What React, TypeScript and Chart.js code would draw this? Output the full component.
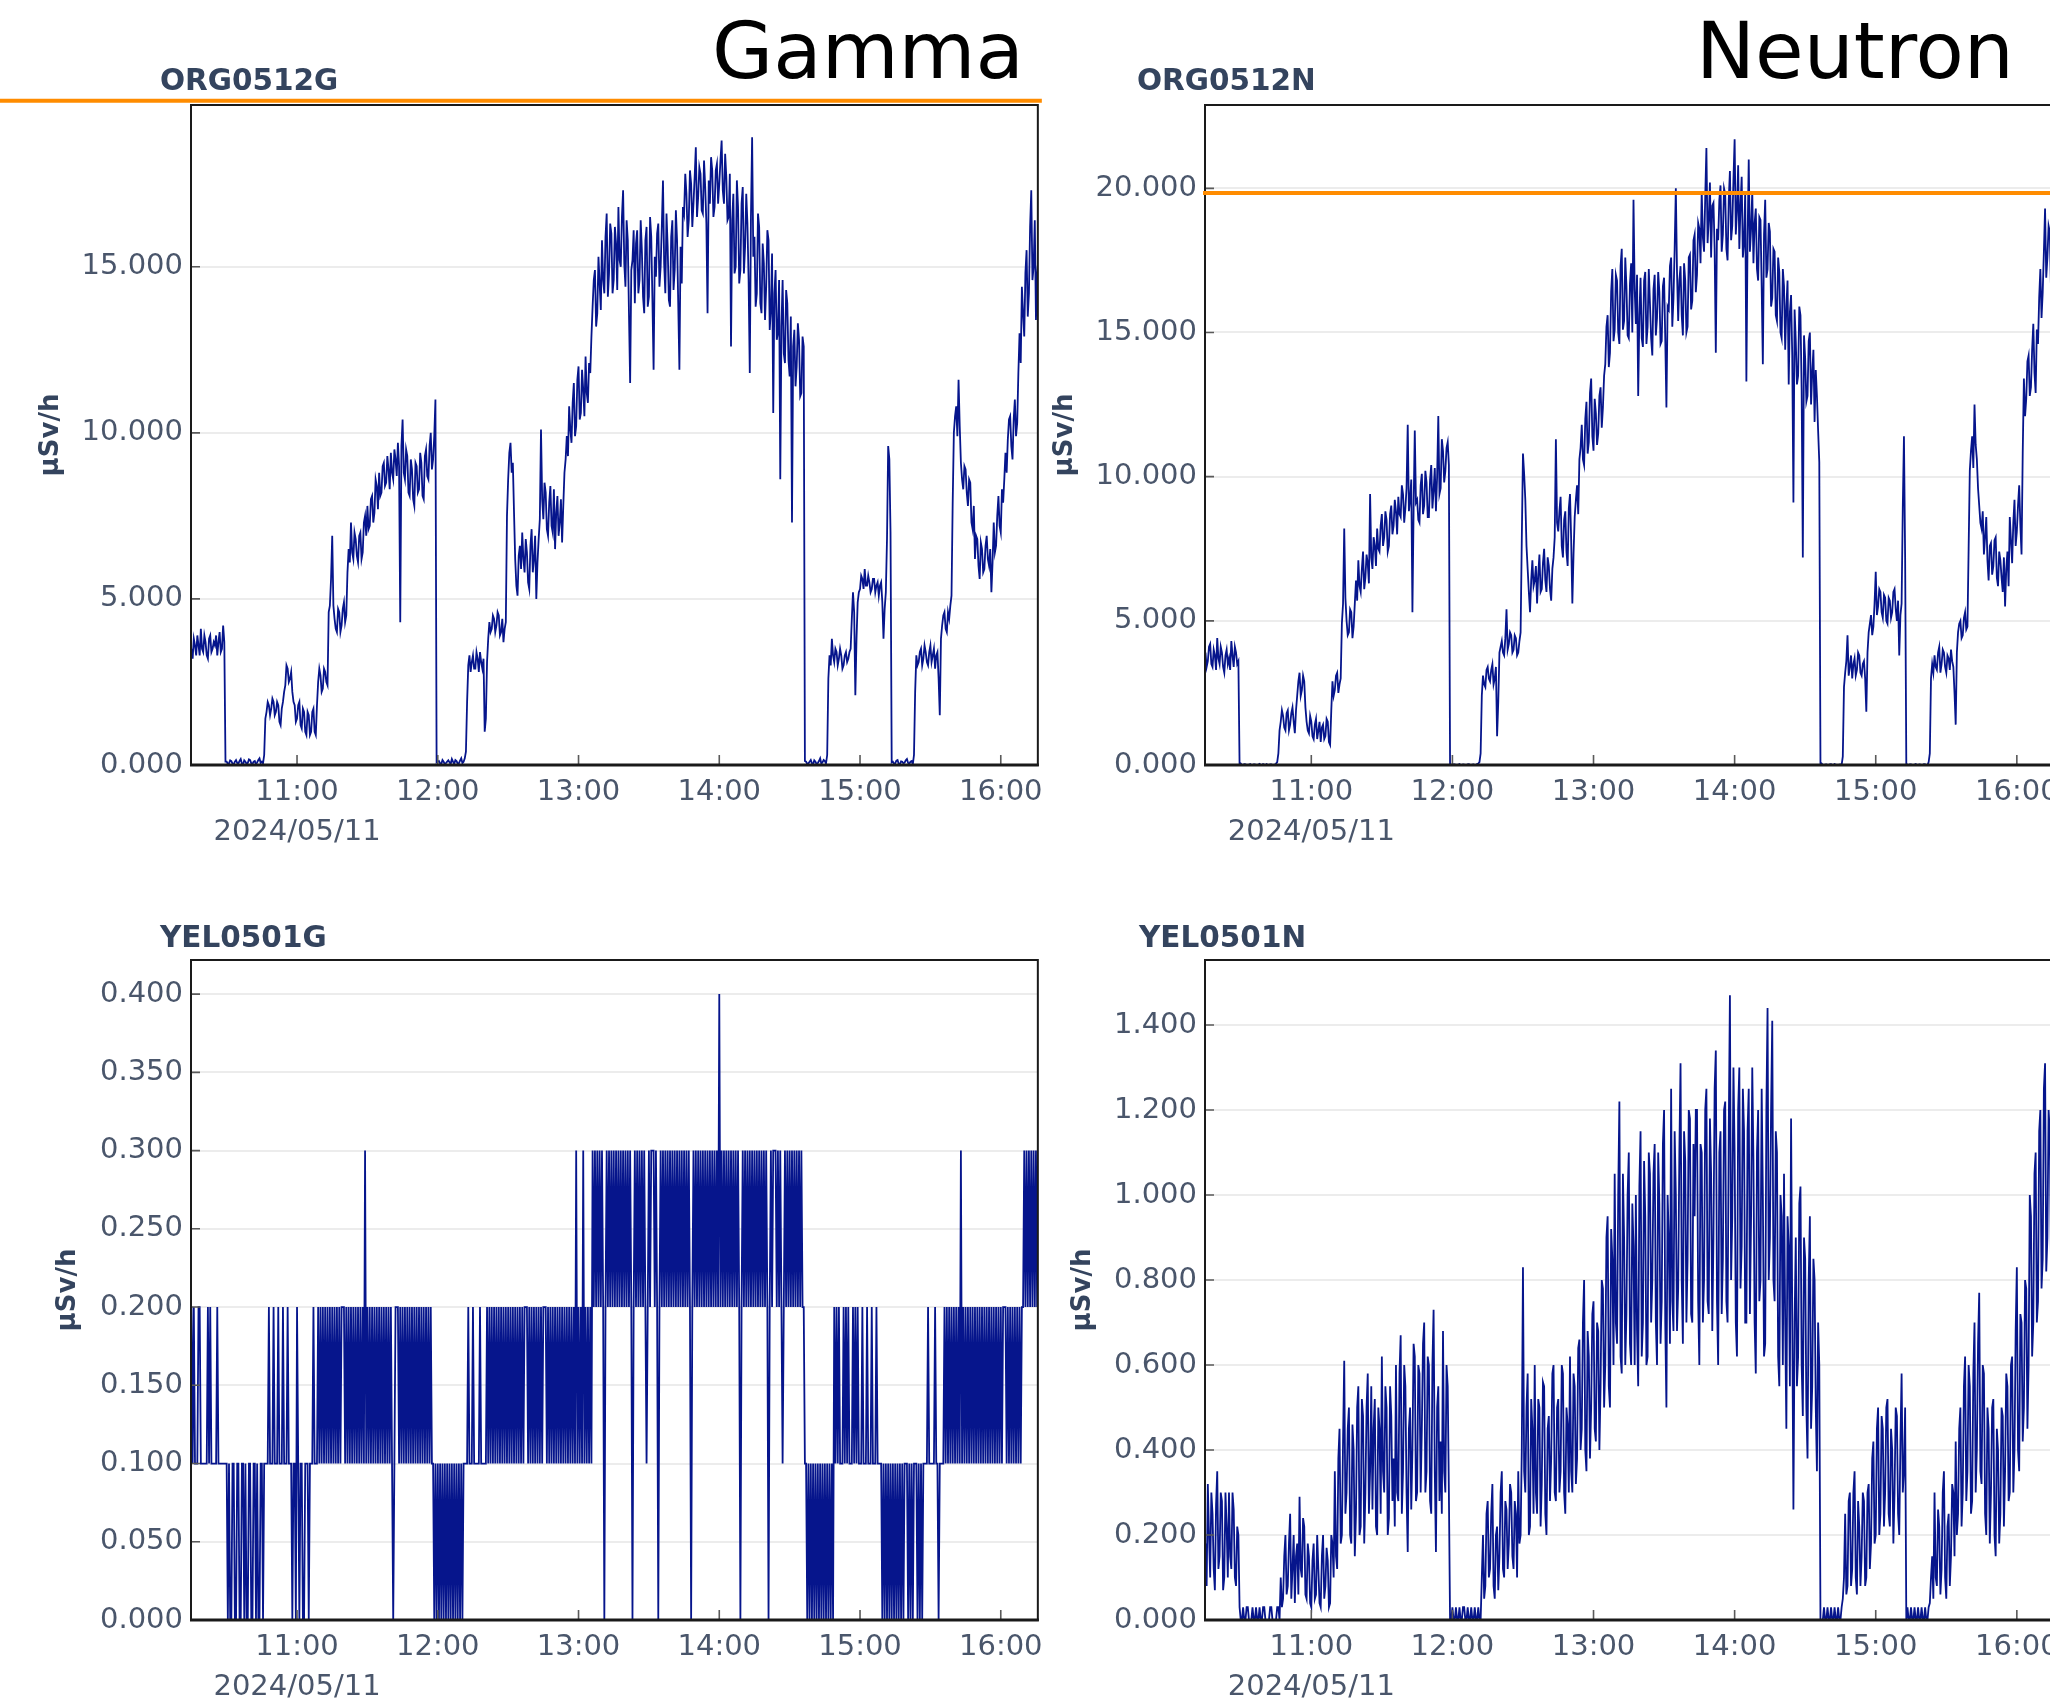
import React, { useEffect, useRef } from "react";
import { Chart, registerables } from "chart.js";

Chart.register(...registerables);

// Sampling grid: readings every 30 s, first reading at 10:15:00.
// Each series is stored as two lists: readings on the minute (mm:00)
// and readings at the half minute (mm:30).
const START_MINUTE = 10 * 60 + 15;
const X_MIN = 614.8;
const X_MAX = 975.8;
const HOUR_TICKS = [660, 720, 780, 840, 900, 960];
const DATE_LABEL = "2024/05/11";
const UNIT_LABEL = "µSv/h";

const ORG_G_TICKS = [0, 5, 10, 15];
const ORG_N_TICKS = [0, 5, 10, 15, 20];
const YEL_G_TICKS = [0, 0.05, 0.1, 0.15, 0.2, 0.25, 0.3, 0.35, 0.4];
const YEL_N_TICKS = [0, 0.2, 0.4, 0.6, 0.8, 1.0, 1.2, 1.4];

// Alarm levels drawn as horizontal lines on the ORG panels
const ORG_G_ALARM = 20.0;
const ORG_N_ALARM = 19.84;

// ORG0512G gamma dose rate, µSv/h — mm:00 readings
const org0512G = [
  // 10:15
  3.5, 3.8, 3.3, 3.6, 4.1, 3.4, 3.7, 3.2, 3.9, 3.5,
  // 10:25
  3.6, 3.3, 4.0, 3.5, 3.7, 0.1, 0.05, 0.12, 0.02, 0.15,
  // 10:35
  0.05, 0.18, 0.02, 0.1, 0.06, 0.15, 0.03, 0.12, 0.08, 0.2,
  // 10:45
  0.1, 0.3, 1.6, 1.8, 1.7, 1.9, 1.6, 1.8, 1.2, 1.9,
  // 10:55
  2.4, 2.9, 2.6, 2.2, 1.8, 1.4, 1.9, 1.1, 1.6, 0.9,
  // 11:05
  1.5, 1.0, 1.7, 0.9, 2.5, 2.7, 2.3, 2.8, 2.4, 4.8,
  // 11:15
  6.9, 4.4, 4.0, 4.6, 4.2, 4.9, 4.5, 6.5, 7.3, 6.2,
  // 11:25
  6.8, 6.1, 7.0, 6.4, 7.5, 7.8, 7.2, 8.1, 7.6, 8.4,
  // 11:35
  8.8, 8.2, 9.1, 8.5, 8.9, 9.4, 8.6, 9.2, 9.7, 4.3,
  // 11:45
  10.4, 8.6, 9.3, 8.1, 8.9, 7.8, 9.0, 8.3, 9.1, 8.0,
  // 11:55
  9.5, 8.6, 10.0, 9.2, 11.0, 0.1, 0.05, 0.15, 0.02, 0.1,
  // 12:05
  0.08, 0.18, 0.03, 0.12, 0.05, 0.2, 0.1, 0.4, 3.0, 2.8,
  // 12:15
  3.3, 2.9, 3.2, 3.4, 2.9, 1.0, 3.1, 4.3, 4.1, 4.4,
  // 12:25
  4.2, 4.5, 4.0, 3.7, 4.3, 8.6, 9.7, 9.1, 6.2, 5.1,
  // 12:35
  6.6, 7.0, 5.8, 6.4, 5.3, 7.1, 6.2, 5.0, 6.8, 10.1,
  // 12:45
  7.4, 8.2, 6.9, 8.4, 7.0, 6.5, 8.1, 7.3, 6.7, 8.8,
  // 12:55
  9.9, 10.8, 9.7, 11.5, 10.2, 12.0, 10.6, 11.3, 12.3, 10.9,
  // 13:05
  11.8, 13.8, 14.9, 13.6, 14.5, 15.8, 14.2, 16.6, 14.8, 16.0,
  // 13:15
  14.6, 15.7, 16.8, 15.0, 17.3, 14.4, 15.8, 11.5, 15.2, 13.9,
  // 13:25
  16.1, 14.6, 15.5, 13.6, 16.2, 14.1, 15.9, 11.9, 14.7, 16.3,
  // 13:35
  15.0, 17.6, 14.2, 15.6, 13.8, 16.4, 14.9, 15.8, 11.9, 14.5,
  // 13:45
  16.6, 17.2, 16.4, 17.5, 16.9, 18.6, 17.1, 17.8, 16.6, 17.4,
  // 13:55
  13.6, 16.9, 17.9, 16.8, 18.1, 17.5, 18.8, 16.9, 17.7, 16.5,
  // 14:05
  12.6, 17.2, 15.0, 16.8, 14.9, 17.4, 15.6, 16.3, 11.8, 18.9,
  // 14:15
  15.9, 14.2, 16.2, 13.6, 15.1, 14.4, 15.8, 13.7, 10.6, 14.9,
  // 14:25
  13.0, 8.6, 14.6, 12.1, 13.9, 11.7, 7.3, 13.1, 12.0, 12.8,
  // 14:35
  11.2, 12.6, 0.1, 0.05, 0.15, 0.02, 0.1, 0.06, 0.2, 0.08,
  // 14:45
  0.12, 0.3, 3.3, 3.8, 3.1, 3.4, 3.2, 3.3, 3.0, 3.4,
  // 14:55
  3.2, 3.5, 5.2, 2.1, 4.9, 5.3, 5.6, 5.9, 5.4, 5.5,
  // 15:05
  5.3, 5.6, 5.4, 5.1, 5.5, 3.8, 5.2, 9.6, 7.0, 0.1,
  // 15:15
  0.05, 0.15, 0.02, 0.1, 0.07, 0.18, 0.04, 0.12, 0.3, 3.3,
  // 15:25
  3.1, 3.5, 3.2, 3.4, 3.0, 3.6, 3.3, 2.9, 3.4, 1.5,
  // 15:35
  4.2, 4.6, 4.0, 4.4, 5.1, 10.0, 10.8, 11.6, 9.1, 8.3,
  // 15:45
  8.9, 7.8, 8.5, 7.1, 6.2, 6.8, 5.6, 6.5, 5.9, 6.9,
  // 15:55
  6.0, 5.2, 7.3, 6.6, 8.1, 7.0, 7.9, 9.4, 9.8, 10.5,
  // 16:05
  9.2, 11.0, 10.3, 13.0, 14.4, 12.9, 15.5, 14.2, 17.3, 15.0,
  // 16:15
  13.4, 15.2,
];

// ORG0512G — mm:30 readings
const org0512GHalf = [
  // 10:15
  3.2, 3.6, 3.9, 3.3, 3.5, 3.9, 3.3, 3.8, 3.4, 3.7,
  // 10:25
  3.9, 3.7, 3.4, 4.2, 0.1, 0.03, 0.14, 0.04, 0.1, 0.06,
  // 10:35
  0.12, 0.04, 0.14, 0.03, 0.17, 0.05, 0.1, 0.02, 0.15, 0.06,
  // 10:45
  0.05, 1.4, 1.9, 1.5, 2.0, 1.5, 1.9, 1.3, 1.7, 2.2,
  // 10:55
  3.0, 2.5, 2.8, 1.9, 1.3, 1.8, 1.2, 1.7, 1.0, 1.6,
  // 11:05
  0.9, 1.6, 1.0, 1.8, 2.9, 2.2, 2.9, 2.5, 4.6, 5.6,
  // 11:15
  4.8, 4.1, 4.7, 4.0, 4.7, 4.3, 5.8, 6.1, 6.4, 7.0,
  // 11:25
  6.3, 6.9, 6.2, 7.3, 6.9, 7.1, 8.0, 7.3, 8.6, 7.7,
  // 11:35
  8.1, 9.0, 8.4, 9.3, 8.3, 8.8, 9.5, 8.7, 9.0, 9.6,
  // 11:45
  8.8, 9.5, 8.2, 9.2, 8.0, 9.1, 8.2, 9.4, 8.1, 9.3,
  // 11:55
  8.7, 9.6, 8.9, 9.9, 0.08, 0.12, 0.03, 0.1, 0.06, 0.14,
  // 12:05
  0.03, 0.1, 0.15, 0.04, 0.13, 0.06, 0.2, 1.9, 3.3, 3.1,
  // 12:15
  2.9, 3.4, 2.8, 3.1, 3.2, 1.4, 3.8, 4.0, 4.5, 4.0,
  // 12:25
  4.6, 3.9, 4.4, 4.1, 7.5, 9.4, 8.8, 7.6, 5.4, 6.3,
  // 12:35
  5.9, 6.2, 6.8, 5.5, 6.6, 5.8, 6.9, 6.1, 7.4, 8.0,
  // 12:45
  8.5, 7.1, 7.9, 7.2, 8.3, 7.6, 6.9, 8.0, 7.8, 9.2,
  // 12:55
  9.3, 10.1, 10.9, 9.9, 11.6, 10.4, 11.9, 10.5, 11.2, 12.1,
  // 13:05
  12.9, 14.6, 13.2, 15.3, 13.7, 14.6, 15.9, 14.1, 16.3, 14.2,
  // 13:15
  16.2, 14.3, 15.2, 16.5, 15.1, 16.4, 13.6, 14.9, 16.1, 15.7,
  // 13:25
  14.2, 16.4, 14.1, 15.8, 13.8, 16.5, 14.0, 15.3, 16.0, 14.4,
  // 13:35
  16.2, 15.1, 16.6, 14.0, 15.9, 14.3, 16.7, 13.9, 15.6, 16.8,
  // 13:45
  17.8, 15.9, 17.9, 16.2, 17.7, 16.5, 18.0, 16.7, 18.2, 16.3,
  // 13:55
  17.6, 18.3, 16.5, 17.9, 16.9, 18.2, 17.3, 18.4, 16.4, 17.8,
  // 14:05
  16.4, 14.8, 17.6, 14.5, 16.9, 14.8, 17.2, 14.6, 16.5, 15.3,
  // 14:15
  13.8, 16.6, 13.9, 15.7, 13.4, 16.1, 13.1, 15.4, 14.2, 12.8,
  // 14:25
  14.6, 13.2, 12.4, 14.3, 12.2, 13.5, 12.6, 11.4, 13.3, 11.1,
  // 14:35
  12.9, 0.12, 0.03, 0.1, 0.05, 0.14, 0.02, 0.12, 0.04, 0.15,
  // 14:45
  0.05, 2.6, 3.0, 3.3, 3.5, 3.0, 3.5, 2.9, 3.3, 3.1,
  // 14:55
  3.4, 4.4, 4.6, 3.8, 5.2, 5.7, 5.3, 5.4, 5.7, 5.2,
  // 15:05
  5.6, 5.2, 5.5, 5.4, 4.9, 4.7, 6.8, 9.2, 0.08, 0.04,
  // 15:15
  0.13, 0.03, 0.11, 0.05, 0.14, 0.06, 0.1, 0.02, 2.2, 3.0,
  // 15:25
  3.4, 3.0, 3.6, 3.1, 3.4, 3.1, 3.5, 3.3, 2.6, 3.8,
  // 15:35
  4.5, 4.1, 4.6, 4.8, 7.9, 10.5, 9.9, 10.2, 8.6, 9.0,
  // 15:45
  8.2, 8.6, 7.3, 7.8, 6.9, 6.0, 6.7, 5.8, 6.6, 6.2,
  // 15:55
  6.5, 6.1, 6.4, 7.5, 7.2, 8.3, 8.6, 8.8, 10.4, 9.6,
  // 16:05
  10.4, 9.9, 11.8, 12.1, 13.6, 14.8, 13.5, 16.2, 14.6, 16.4,
  // 16:15
  14.8, 14.0,
];

// ORG0512N neutron dose rate, µSv/h — mm:00 readings
const org0512N = [
  // 10:15
  3.9, 3.6, 4.2, 3.4, 3.8, 4.4, 3.5, 3.9, 3.2, 4.0,
  // 10:25
  3.7, 4.3, 3.4, 3.9, 3.6, 0.05, 0.0, 0.02, 0.0, 0.03,
  // 10:35
  0.0, 0.02, 0.0, 0.04, 0.0, 0.01, 0.03, 0.0, 0.02, 0.0,
  // 10:45
  0.05, 0.4, 1.5, 1.7, 1.2, 1.9, 1.4, 2.0, 1.1, 2.4,
  // 10:55
  3.2, 2.6, 2.9, 1.5, 1.1, 1.5, 0.9, 1.6, 1.2, 0.8,
  // 11:05
  1.4, 1.0, 1.5, 0.7, 2.9, 2.6, 3.2, 2.8, 4.9, 8.2,
  // 11:15
  5.0, 4.6, 5.3, 4.8, 6.4, 7.1, 6.0, 7.4, 6.5, 7.0,
  // 11:25
  9.4, 6.8, 7.6, 8.2, 7.4, 8.7, 7.9, 8.5, 7.6, 9.0,
  // 11:35
  8.3, 8.8, 9.3, 8.6, 9.4, 8.9, 11.8, 9.2, 5.3, 11.6,
  // 11:45
  9.2, 8.4, 10.1, 9.0, 9.8, 8.6, 10.4, 9.5, 8.8, 12.1,
  // 11:55
  9.6, 10.9, 10.2, 11.2, 0.05, 0.0, 0.02, 0.0, 0.03, 0.0,
  // 12:05
  0.01, 0.0, 0.03, 0.0, 0.02, 0.0, 0.05, 0.4, 3.1, 2.7,
  // 12:15
  3.4, 2.9, 3.5, 3.0, 1.0, 3.9, 4.3, 3.8, 5.4, 4.2,
  // 12:25
  4.5, 4.0, 4.4, 3.9, 4.6, 10.8, 9.2, 6.8, 5.3, 7.1,
  // 12:35
  6.4, 5.6, 7.3, 6.1, 7.5, 6.0, 6.9, 5.7, 7.2, 11.3,
  // 12:45
  8.1, 9.3, 7.2, 8.8, 6.9, 9.4, 5.6, 8.6, 9.7, 10.6,
  // 12:55
  11.8, 10.4, 12.6, 11.2, 13.4, 10.9, 12.2, 11.5, 13.1, 12.4,
  // 13:05
  13.9, 15.6, 14.3, 17.2, 15.1, 16.8, 14.6, 17.9, 15.4, 16.6,
  // 13:15
  14.8, 17.4, 19.6, 15.3, 12.8, 16.9, 14.5, 17.1, 15.2, 16.0,
  // 13:25
  14.2, 17.0, 15.5, 16.4, 14.7, 16.9, 12.4, 15.8, 17.6, 16.2,
  // 13:35
  20.0, 15.4, 17.3, 14.9, 16.8, 15.2, 17.7, 16.1, 18.4, 17.0,
  // 13:45
  18.6, 19.9, 17.8, 21.4, 18.9, 17.6, 19.5, 14.3, 18.2, 20.1,
  // 13:55
  18.4, 19.8, 17.5, 20.6, 18.7, 21.7, 19.2, 17.9, 20.4, 18.1,
  // 14:05
  13.3, 21.0, 18.6, 17.4, 19.3, 16.8, 18.9, 13.9, 19.6, 17.2,
  // 14:15
  18.5, 16.2, 17.8, 15.4, 17.1, 14.8, 16.6, 15.9, 13.2, 16.3,
  // 14:25
  9.1, 14.7, 13.5, 15.6, 7.2, 14.1, 12.8, 15.0, 13.6, 11.9,
  // 14:35
  12.8, 10.5, 0.05, 0.0, 0.02, 0.0, 0.03, 0.0, 0.01, 0.0,
  // 14:45
  0.02, 0.3, 3.2, 4.5, 3.4, 3.0, 3.7, 3.3, 3.8, 3.1,
  // 14:55
  3.6, 1.85, 4.6, 5.2, 4.8, 6.7, 5.5, 6.0, 5.1, 5.8,
  // 15:05
  4.9, 5.7, 5.3, 6.1, 5.0, 3.8, 5.6, 11.4, 0.05, 0.0,
  // 15:15
  0.02, 0.0, 0.03, 0.0, 0.01, 0.0, 0.02, 0.0, 0.4, 3.5,
  // 15:25
  3.8, 3.3, 4.1, 3.5, 3.9, 3.2, 3.7, 4.0, 3.4, 1.4,
  // 15:35
  4.6, 5.0, 4.5, 5.3, 4.8, 10.2, 11.4, 12.5, 10.6, 9.0,
  // 15:45
  8.2, 7.3, 8.6, 6.4, 7.7, 6.9, 7.9, 6.2, 7.1, 6.0,
  // 15:55
  5.5, 7.4, 8.6, 7.0, 9.2, 8.1, 9.7, 7.3, 13.4, 12.7,
  // 16:05
  14.2, 13.1, 15.3, 12.9, 14.6, 17.2, 16.4, 19.3, 17.6, 18.5,
  // 16:15
  16.9, 19.2,
];

// ORG0512N — mm:30 readings
const org0512NHalf = [
  // 10:15
  3.4, 4.1, 3.5, 4.0, 3.3, 3.7, 4.1, 3.4, 3.8, 3.5,
  // 10:25
  3.3, 3.8, 4.1, 3.5, 0.02, 0.0, 0.03, 0.0, 0.01, 0.0,
  // 10:35
  0.02, 0.0, 0.01, 0.0, 0.03, 0.0, 0.0, 0.02, 0.0, 0.01,
  // 10:45
  0.1, 1.2, 1.9, 1.3, 1.8, 1.2, 1.8, 1.5, 1.9, 2.9,
  // 10:55
  2.4, 3.1, 2.0, 1.2, 1.7, 1.0, 1.4, 0.9, 1.5, 1.3,
  // 11:05
  0.9, 1.6, 0.8, 1.9, 2.4, 3.1, 2.5, 3.0, 5.6, 5.8,
  // 11:15
  4.5, 5.4, 4.4, 5.6, 5.7, 6.2, 6.8, 6.1, 7.3, 6.3,
  // 11:25
  7.2, 7.9, 6.9, 7.5, 8.3, 7.6, 8.8, 7.4, 8.7, 8.0,
  // 11:35
  9.2, 8.0, 8.7, 9.7, 8.4, 9.6, 8.8, 9.9, 8.9, 9.1,
  // 11:45
  8.5, 9.7, 8.7, 10.2, 8.6, 9.9, 8.9, 10.3, 10.0, 9.4,
  // 11:55
  11.3, 9.8, 11.0, 10.4, 0.0, 0.02, 0.0, 0.01, 0.0, 0.02,
  // 12:05
  0.0, 0.02, 0.0, 0.01, 0.0, 0.03, 0.1, 2.4, 2.8, 3.3,
  // 12:15
  3.0, 3.3, 2.8, 3.4, 2.2, 4.1, 3.9, 4.4, 4.0, 4.6,
  // 12:25
  3.9, 4.5, 3.8, 4.3, 7.8, 10.1, 7.6, 6.0, 6.4, 6.2,
  // 12:35
  6.9, 6.6, 6.0, 7.0, 6.4, 7.2, 6.1, 6.8, 7.9, 8.4,
  // 12:45
  8.8, 7.6, 8.5, 7.4, 8.9, 7.8, 7.3, 9.2, 8.7, 11.0,
  // 12:55
  10.6, 12.0, 10.8, 12.9, 11.4, 12.7, 11.1, 12.8, 11.7, 13.5,
  // 13:05
  15.2, 13.8, 16.4, 14.7, 17.0, 15.0, 17.3, 15.1, 17.6, 14.9,
  // 13:15
  16.7, 15.0, 16.5, 17.0, 15.6, 14.8, 16.8, 14.6, 17.2, 14.8,
  // 13:25
  16.5, 14.9, 17.1, 14.6, 16.6, 14.8, 15.9, 17.3, 15.2, 17.9,
  // 13:35
  17.1, 16.8, 15.6, 17.4, 15.0, 17.6, 15.8, 18.2, 16.4, 18.8,
  // 13:45
  17.4, 18.3, 19.7, 18.1, 20.2, 19.4, 17.9, 18.6, 19.6, 17.8,
  // 13:55
  20.0, 17.9, 19.6, 18.2, 20.3, 18.4, 20.8, 19.4, 17.6, 19.9,
  // 14:05
  18.2, 17.8, 19.9, 18.8, 17.2, 19.0, 16.6, 18.4, 16.9, 18.8,
  // 14:15
  15.9, 17.9, 15.6, 17.6, 15.0, 17.2, 14.4, 16.8, 15.7, 14.2,
  // 14:25
  15.8, 13.2, 15.9, 13.0, 14.9, 12.6, 14.7, 12.5, 14.4, 13.7,
  // 14:35
  11.6, 0.02, 0.0, 0.01, 0.0, 0.02, 0.0, 0.03, 0.0, 0.01,
  // 14:45
  0.0, 2.7, 3.6, 3.1, 3.8, 3.5, 3.1, 3.9, 3.2, 3.5,
  // 14:55
  3.0, 3.9, 4.9, 4.5, 5.6, 5.2, 6.1, 5.3, 5.9, 5.0,
  // 15:05
  5.8, 5.1, 6.0, 5.4, 5.7, 5.2, 8.9, 7.2, 0.0, 0.02,
  // 15:15
  0.0, 0.01, 0.0, 0.02, 0.0, 0.03, 0.0, 0.1, 3.0, 3.2,
  // 15:25
  3.4, 3.9, 3.2, 4.0, 3.4, 3.8, 3.3, 3.6, 2.5, 3.9,
  // 15:35
  4.9, 4.4, 5.1, 4.7, 7.5, 10.9, 10.3, 11.1, 9.6, 8.4,
  // 15:45
  8.8, 7.9, 7.1, 7.6, 6.6, 7.8, 6.5, 7.4, 6.5, 7.2,
  // 15:55
  6.8, 6.2, 7.8, 8.4, 7.6, 9.0, 8.3, 10.8, 12.1, 14.0,
  // 16:05
  12.8, 14.4, 13.6, 15.1, 16.2, 15.5, 17.8, 16.9, 18.7, 16.6,
  // 16:15
  18.4, 17.5,
];

// YEL0501G gamma dose rate, µSv/h (0.1 resolution) — mm:00 readings
const yel0501G = [
  // 10:15
  0.2, 0.2, 0.1, 0.2, 0.1, 0.1, 0.1, 0.2, 0.2, 0.1,
  // 10:25
  0.1, 0.2, 0.1, 0.1, 0.1, 0.1, 0.1, 0.0, 0.1, 0.0,
  // 10:35
  0.1, 0.0, 0.1, 0.1, 0.0, 0.1, 0.0, 0.1, 0.1, 0.0,
  // 10:45
  0.1, 0.1, 0.1, 0.2, 0.1, 0.2, 0.1, 0.2, 0.1, 0.2,
  // 10:55
  0.1, 0.2, 0.1, 0.0, 0.1, 0.2, 0.0, 0.1, 0.0, 0.1,
  // 11:05
  0.0, 0.1, 0.2, 0.1, 0.2, 0.2, 0.2, 0.2, 0.2, 0.2,
  // 11:15
  0.2, 0.2, 0.2, 0.2, 0.2, 0.2, 0.2, 0.2, 0.2, 0.2,
  // 11:25
  0.2, 0.2, 0.2, 0.2, 0.3, 0.2, 0.2, 0.2, 0.2, 0.2,
  // 11:35
  0.2, 0.2, 0.2, 0.2, 0.2, 0.2, 0.0, 0.2, 0.2, 0.2,
  // 11:45
  0.2, 0.2, 0.2, 0.2, 0.2, 0.2, 0.2, 0.2, 0.2, 0.2,
  // 11:55
  0.2, 0.2, 0.2, 0.1, 0.1, 0.1, 0.1, 0.1, 0.1, 0.1,
  // 12:05
  0.1, 0.1, 0.1, 0.1, 0.1, 0.1, 0.1, 0.1, 0.2, 0.1,
  // 12:15
  0.2, 0.1, 0.1, 0.2, 0.1, 0.1, 0.2, 0.2, 0.2, 0.2,
  // 12:25
  0.2, 0.2, 0.2, 0.2, 0.2, 0.2, 0.2, 0.2, 0.2, 0.2,
  // 12:35
  0.2, 0.2, 0.2, 0.2, 0.2, 0.2, 0.2, 0.2, 0.2, 0.2,
  // 12:45
  0.2, 0.2, 0.2, 0.2, 0.2, 0.2, 0.2, 0.2, 0.2, 0.2,
  // 12:55
  0.2, 0.2, 0.2, 0.2, 0.3, 0.2, 0.2, 0.3, 0.2, 0.2,
  // 13:05
  0.2, 0.3, 0.3, 0.3, 0.3, 0.3, 0.0, 0.3, 0.3, 0.3,
  // 13:15
  0.3, 0.3, 0.3, 0.3, 0.3, 0.3, 0.3, 0.3, 0.0, 0.3,
  // 13:25
  0.3, 0.3, 0.3, 0.3, 0.1, 0.3, 0.3, 0.3, 0.3, 0.0,
  // 13:35
  0.3, 0.3, 0.3, 0.3, 0.3, 0.3, 0.3, 0.3, 0.3, 0.3,
  // 13:45
  0.3, 0.3, 0.3, 0.0, 0.3, 0.3, 0.3, 0.3, 0.3, 0.3,
  // 13:55
  0.3, 0.3, 0.3, 0.3, 0.3, 0.4, 0.3, 0.3, 0.3, 0.3,
  // 14:05
  0.3, 0.3, 0.3, 0.3, 0.0, 0.3, 0.3, 0.3, 0.3, 0.3,
  // 14:15
  0.3, 0.3, 0.3, 0.3, 0.3, 0.3, 0.0, 0.3, 0.3, 0.3,
  // 14:25
  0.3, 0.3, 0.1, 0.3, 0.3, 0.3, 0.3, 0.3, 0.3, 0.3,
  // 14:35
  0.3, 0.2, 0.1, 0.1, 0.1, 0.1, 0.1, 0.1, 0.1, 0.1,
  // 14:45
  0.1, 0.1, 0.1, 0.1, 0.2, 0.2, 0.2, 0.1, 0.2, 0.2,
  // 14:55
  0.2, 0.1, 0.2, 0.2, 0.2, 0.1, 0.2, 0.1, 0.2, 0.1,
  // 15:05
  0.2, 0.1, 0.2, 0.1, 0.1, 0.1, 0.1, 0.1, 0.1, 0.1,
  // 15:15
  0.1, 0.1, 0.1, 0.1, 0.1, 0.1, 0.1, 0.1, 0.1, 0.1,
  // 15:25
  0.1, 0.1, 0.1, 0.1, 0.2, 0.1, 0.1, 0.2, 0.1, 0.1,
  // 15:35
  0.1, 0.2, 0.2, 0.2, 0.2, 0.2, 0.2, 0.2, 0.3, 0.2,
  // 15:45
  0.2, 0.2, 0.2, 0.2, 0.2, 0.2, 0.2, 0.2, 0.2, 0.2,
  // 15:55
  0.2, 0.2, 0.2, 0.2, 0.2, 0.2, 0.2, 0.2, 0.2, 0.2,
  // 16:05
  0.2, 0.2, 0.2, 0.2, 0.2, 0.3, 0.3, 0.3, 0.3, 0.3,
  // 16:15
  0.3, 0.3,
];

// YEL0501G — mm:30 readings
const yel0501GHalf = [
  // 10:15
  0.1, 0.1, 0.1, 0.2, 0.1, 0.1, 0.1, 0.1, 0.1, 0.1,
  // 10:25
  0.1, 0.1, 0.1, 0.1, 0.1, 0.0, 0.0, 0.1, 0.0, 0.1,
  // 10:35
  0.0, 0.1, 0.0, 0.0, 0.1, 0.0, 0.1, 0.0, 0.0, 0.1,
  // 10:45
  0.0, 0.1, 0.1, 0.1, 0.1, 0.1, 0.1, 0.1, 0.1, 0.1,
  // 10:55
  0.1, 0.1, 0.1, 0.1, 0.0, 0.1, 0.1, 0.0, 0.1, 0.1,
  // 11:05
  0.1, 0.1, 0.1, 0.1, 0.1, 0.1, 0.1, 0.1, 0.1, 0.1,
  // 11:15
  0.1, 0.1, 0.1, 0.1, 0.2, 0.1, 0.1, 0.1, 0.1, 0.1,
  // 11:25
  0.1, 0.1, 0.1, 0.1, 0.1, 0.1, 0.1, 0.1, 0.1, 0.1,
  // 11:35
  0.1, 0.1, 0.1, 0.1, 0.1, 0.1, 0.1, 0.2, 0.1, 0.1,
  // 11:45
  0.1, 0.1, 0.1, 0.1, 0.1, 0.1, 0.1, 0.1, 0.1, 0.1,
  // 11:55
  0.1, 0.1, 0.1, 0.0, 0.0, 0.0, 0.0, 0.0, 0.0, 0.0,
  // 12:05
  0.0, 0.0, 0.0, 0.0, 0.0, 0.0, 0.1, 0.1, 0.1, 0.1,
  // 12:15
  0.1, 0.1, 0.1, 0.1, 0.1, 0.1, 0.1, 0.1, 0.1, 0.1,
  // 12:25
  0.1, 0.1, 0.1, 0.1, 0.1, 0.1, 0.1, 0.1, 0.1, 0.1,
  // 12:35
  0.1, 0.1, 0.2, 0.1, 0.1, 0.1, 0.1, 0.1, 0.1, 0.1,
  // 12:45
  0.2, 0.1, 0.1, 0.1, 0.1, 0.1, 0.1, 0.1, 0.1, 0.1,
  // 12:55
  0.1, 0.1, 0.1, 0.1, 0.1, 0.1, 0.1, 0.1, 0.1, 0.1,
  // 13:05
  0.1, 0.2, 0.2, 0.2, 0.2, 0.2, 0.2, 0.2, 0.2, 0.2,
  // 13:15
  0.2, 0.2, 0.2, 0.2, 0.2, 0.2, 0.2, 0.2, 0.2, 0.2,
  // 13:25
  0.2, 0.2, 0.2, 0.2, 0.2, 0.2, 0.3, 0.2, 0.2, 0.2,
  // 13:35
  0.2, 0.2, 0.2, 0.2, 0.2, 0.2, 0.2, 0.2, 0.2, 0.2,
  // 13:45
  0.2, 0.2, 0.2, 0.2, 0.2, 0.2, 0.2, 0.2, 0.2, 0.2,
  // 13:55
  0.2, 0.2, 0.2, 0.2, 0.2, 0.2, 0.2, 0.2, 0.2, 0.2,
  // 14:05
  0.2, 0.2, 0.2, 0.2, 0.2, 0.2, 0.2, 0.2, 0.2, 0.2,
  // 14:15
  0.2, 0.2, 0.2, 0.2, 0.2, 0.2, 0.2, 0.2, 0.3, 0.2,
  // 14:25
  0.2, 0.2, 0.2, 0.2, 0.2, 0.2, 0.2, 0.2, 0.2, 0.2,
  // 14:35
  0.2, 0.1, 0.0, 0.0, 0.0, 0.0, 0.0, 0.0, 0.0, 0.0,
  // 14:45
  0.0, 0.0, 0.0, 0.0, 0.1, 0.1, 0.1, 0.1, 0.1, 0.1,
  // 14:55
  0.1, 0.1, 0.1, 0.1, 0.1, 0.1, 0.1, 0.1, 0.1, 0.1,
  // 15:05
  0.1, 0.1, 0.1, 0.1, 0.0, 0.0, 0.0, 0.0, 0.0, 0.0,
  // 15:15
  0.0, 0.0, 0.0, 0.0, 0.1, 0.0, 0.0, 0.0, 0.1, 0.0,
  // 15:25
  0.0, 0.0, 0.1, 0.1, 0.1, 0.1, 0.1, 0.1, 0.0, 0.1,
  // 15:35
  0.1, 0.1, 0.1, 0.1, 0.1, 0.1, 0.1, 0.1, 0.1, 0.1,
  // 15:45
  0.1, 0.1, 0.1, 0.1, 0.1, 0.1, 0.1, 0.1, 0.1, 0.1,
  // 15:55
  0.1, 0.1, 0.1, 0.1, 0.1, 0.1, 0.2, 0.1, 0.1, 0.1,
  // 16:05
  0.1, 0.1, 0.1, 0.1, 0.2, 0.2, 0.2, 0.2, 0.2, 0.2,
  // 16:15
  0.2, 0.2,
];

// YEL0501N neutron dose rate, µSv/h — mm:00 readings
const yel0501N = [
  // 10:15
  0.18, 0.32, 0.1, 0.25, 0.07, 0.35, 0.15, 0.28, 0.1, 0.22,
  // 10:25
  0.3, 0.12, 0.26, 0.08, 0.2, 0.0, 0.03, 0.0, 0.03, 0.0,
  // 10:35
  0.03, 0.0, 0.0, 0.03, 0.0, 0.03, 0.0, 0.0, 0.03, 0.0,
  // 10:45
  0.0, 0.03, 0.1, 0.05, 0.2, 0.08, 0.25, 0.12, 0.04, 0.18,
  // 10:55
  0.29, 0.1, 0.22, 0.05, 0.15, 0.03, 0.18, 0.06, 0.12, 0.03,
  // 11:05
  0.2, 0.08, 0.14, 0.04, 0.18, 0.35, 0.12, 0.45, 0.2, 0.61,
  // 11:15
  0.3, 0.5, 0.18, 0.4, 0.25, 0.55, 0.22, 0.48, 0.3, 0.58,
  // 11:25
  0.35, 0.26, 0.52, 0.2, 0.45, 0.62, 0.3, 0.5, 0.24, 0.48,
  // 11:35
  0.38, 0.6, 0.28, 0.67, 0.35, 0.55, 0.16, 0.5, 0.4, 0.62,
  // 11:45
  0.3, 0.58, 0.45, 0.7, 0.35, 0.6, 0.25, 0.73, 0.16, 0.55,
  // 11:55
  0.42, 0.68, 0.3, 0.55, 0.0, 0.03, 0.0, 0.0, 0.03, 0.0,
  // 12:05
  0.03, 0.0, 0.0, 0.03, 0.0, 0.0, 0.03, 0.0, 0.2, 0.08,
  // 12:15
  0.28, 0.12, 0.32, 0.05, 0.22, 0.15, 0.35, 0.1, 0.26, 0.18,
  // 12:25
  0.3, 0.12, 0.25, 0.35, 0.2, 0.83, 0.3, 0.58, 0.22, 0.45,
  // 12:35
  0.6, 0.25, 0.5, 0.32, 0.55, 0.2, 0.48, 0.38, 0.6, 0.28,
  // 12:45
  0.52, 0.35, 0.58, 0.25, 0.46, 0.62, 0.3, 0.55, 0.38, 0.66,
  // 12:55
  0.45, 0.8, 0.35, 0.62, 0.5, 0.75, 0.42, 0.68, 0.55, 0.78,
  // 13:05
  0.6, 0.95, 0.5, 0.85, 1.05, 0.65, 1.22, 0.58, 0.9, 0.72,
  // 13:15
  1.1, 0.6, 0.88, 1.0, 0.55, 1.15, 0.7, 0.95, 0.62, 1.05,
  // 13:25
  0.8, 1.12, 0.6, 0.98, 0.75, 1.2, 0.5, 0.9, 1.25, 0.68,
  // 13:35
  1.0, 0.78, 1.31, 0.65, 1.08, 0.85, 1.18, 0.7, 0.95, 1.2,
  // 13:45
  0.6, 1.1, 0.8, 1.25, 0.72, 1.05, 0.9, 1.34, 0.6, 1.15,
  // 13:55
  0.85, 1.22, 0.7, 1.47, 0.95, 1.1, 0.62, 1.3, 0.88, 1.15,
  // 14:05
  0.7, 1.25, 0.95, 1.08, 0.58, 1.2, 0.8, 1.0, 0.65, 1.44,
  // 14:15
  0.9, 1.41, 0.75, 1.1, 0.55, 0.95, 1.05, 0.45, 0.88, 1.18,
  // 14:25
  0.26, 0.9, 0.62, 1.02, 0.48, 0.85, 0.38, 0.95, 0.55, 0.8,
  // 14:35
  0.35, 0.6, 0.0, 0.03, 0.0, 0.0, 0.03, 0.0, 0.0, 0.03,
  // 14:45
  0.0, 0.05, 0.25, 0.08, 0.3, 0.12, 0.35, 0.06, 0.22, 0.15,
  // 14:55
  0.28, 0.1, 0.32, 0.18, 0.42, 0.2, 0.5, 0.25, 0.45, 0.3,
  // 15:05
  0.52, 0.22, 0.4, 0.3, 0.48, 0.2, 0.58, 0.35, 0.0, 0.0,
  // 15:15
  0.03, 0.0, 0.0, 0.03, 0.0, 0.0, 0.03, 0.0, 0.04, 0.15,
  // 15:25
  0.3, 0.08, 0.22, 0.12, 0.35, 0.05, 0.25, 0.15, 0.3, 0.42,
  // 15:35
  0.25, 0.5, 0.3, 0.62, 0.35, 0.55, 0.28, 0.7, 0.4, 0.77,
  // 15:45
  0.32, 0.58, 0.2, 0.45, 0.3, 0.52, 0.15, 0.4, 0.25, 0.48,
  // 15:55
  0.35, 0.55, 0.3, 0.62, 0.4, 0.83, 0.35, 0.7, 0.5, 0.78,
  // 16:05
  0.6, 0.95, 0.7, 1.1, 0.75, 1.2, 0.85, 1.31, 0.9, 1.15,
  // 16:15
  0.8, 1.25,
];

// YEL0501N — mm:30 readings
const yel0501NHalf = [
  // 10:15
  0.08, 0.2, 0.3, 0.12, 0.27, 0.12, 0.3, 0.07, 0.3, 0.1,
  // 10:25
  0.15, 0.3, 0.1, 0.22, 0.03, 0.0, 0.0, 0.03, 0.0, 0.0,
  // 10:35
  0.0, 0.03, 0.0, 0.0, 0.03, 0.0, 0.0, 0.03, 0.0, 0.0,
  // 10:45
  0.03, 0.0, 0.03, 0.15, 0.06, 0.18, 0.05, 0.2, 0.15, 0.06,
  // 10:55
  0.12, 0.24, 0.06, 0.18, 0.04, 0.14, 0.05, 0.2, 0.04, 0.15,
  // 11:05
  0.05, 0.17, 0.03, 0.2, 0.1, 0.15, 0.38, 0.18, 0.42, 0.25,
  // 11:15
  0.45, 0.2, 0.46, 0.15, 0.5, 0.2, 0.52, 0.18, 0.5, 0.25,
  // 11:25
  0.55, 0.45, 0.22, 0.5, 0.25, 0.35, 0.55, 0.2, 0.55, 0.28,
  // 11:35
  0.22, 0.3, 0.58, 0.25, 0.6, 0.3, 0.45, 0.26, 0.65, 0.28,
  // 11:45
  0.6, 0.3, 0.65, 0.3, 0.62, 0.28, 0.6, 0.35, 0.5, 0.28,
  // 11:55
  0.25, 0.35, 0.6, 0.3, 0.0, 0.0, 0.03, 0.0, 0.0, 0.03,
  // 12:05
  0.0, 0.03, 0.0, 0.0, 0.03, 0.0, 0.0, 0.1, 0.05, 0.25,
  // 12:15
  0.1, 0.25, 0.08, 0.2, 0.07, 0.3, 0.12, 0.28, 0.12, 0.32,
  // 12:25
  0.15, 0.28, 0.1, 0.18, 0.4, 0.35, 0.5, 0.2, 0.52, 0.25,
  // 12:35
  0.3, 0.52, 0.22, 0.56, 0.25, 0.45, 0.28, 0.58, 0.3, 0.5,
  // 12:45
  0.3, 0.6, 0.3, 0.5, 0.3, 0.35, 0.58, 0.32, 0.64, 0.4,
  // 12:55
  0.7, 0.4, 0.68, 0.38, 0.72, 0.45, 0.7, 0.4, 0.8, 0.5,
  // 13:05
  0.9, 0.55, 0.92, 0.6, 0.7, 1.0, 0.62, 1.05, 0.6, 1.0,
  // 13:15
  0.65, 0.98, 0.6, 0.68, 1.02, 0.62, 1.08, 0.6, 1.1, 0.7,
  // 13:25
  1.05, 0.7, 1.1, 0.65, 1.12, 0.7, 1.0, 0.65, 0.75, 1.15,
  // 13:35
  0.68, 1.1, 0.8, 1.15, 0.7, 1.2, 0.72, 1.12, 1.2, 0.75,
  // 13:45
  1.12, 0.7, 1.2, 0.75, 1.18, 0.68, 1.25, 0.75, 1.1, 0.72,
  // 13:55
  1.2, 0.75, 1.15, 0.8, 1.3, 0.7, 1.2, 0.78, 1.25, 0.7,
  // 14:05
  1.15, 0.72, 1.3, 0.7, 1.1, 0.75, 1.25, 0.62, 1.2, 0.8,
  // 14:15
  1.2, 0.8, 1.15, 0.62, 1.0, 0.6, 0.7, 0.95, 0.55, 0.72,
  // 14:25
  0.7, 0.55, 0.98, 0.6, 0.9, 0.5, 0.8, 0.45, 0.85, 0.5,
  // 14:35
  0.7, 0.0, 0.0, 0.0, 0.03, 0.0, 0.0, 0.03, 0.0, 0.0,
  // 14:45
  0.03, 0.1, 0.06, 0.28, 0.08, 0.3, 0.1, 0.28, 0.08, 0.3,
  // 14:55
  0.08, 0.3, 0.12, 0.38, 0.18, 0.45, 0.2, 0.48, 0.22, 0.5,
  // 15:05
  0.25, 0.45, 0.18, 0.5, 0.25, 0.42, 0.3, 0.5, 0.03, 0.0,
  // 15:15
  0.0, 0.03, 0.0, 0.0, 0.03, 0.0, 0.0, 0.03, 0.1, 0.05,
  // 15:25
  0.1, 0.26, 0.06, 0.3, 0.1, 0.22, 0.08, 0.32, 0.15, 0.2,
  // 15:35
  0.45, 0.22, 0.55, 0.28, 0.6, 0.25, 0.58, 0.3, 0.65, 0.35,
  // 15:45
  0.6, 0.25, 0.5, 0.18, 0.5, 0.2, 0.45, 0.18, 0.5, 0.22,
  // 15:55
  0.58, 0.28, 0.6, 0.3, 0.68, 0.4, 0.72, 0.42, 0.8, 0.45,
  // 16:05
  1.0, 0.62, 1.05, 0.7, 1.15, 0.78, 1.25, 0.82, 1.2, 0.85,
  // 16:15
  1.2, 0.9,
];

const FONT = "'DejaVu Sans', 'Noto Sans', sans-serif";
const LINE_COLOR = "#06158c";
const TICK_COLOR = "#4a566b";
const TITLE_COLOR = "#34445e";
const ALARM_COLOR = "#ff8c00";

type Panel = {
  name: string;
  onMinute: number[];
  onHalf: number[];
  yMax: number;
  yTicks: number[];
  alarm?: number;
  alarmSpan?: "left" | "right";
  left: number;
  top: number;
  width: number;
  height: number;
  yAxisWidth: number;
  padRight: number;
  unitPad: number;
  titleX: number;
  titleY: number;
};

const PANELS: Panel[] = [
  {
    name: "ORG0512G", onMinute: org0512G, onHalf: org0512GHalf,
    yMax: 19.87, yTicks: ORG_G_TICKS,
    alarm: ORG_G_ALARM, alarmSpan: "left",
    left: 0, top: 0, width: 1050, height: 870,
    yAxisWidth: 191, padRight: 10, unitPad: 36, titleX: 160, titleY: 82,
  },
  {
    name: "ORG0512N", onMinute: org0512N, onHalf: org0512NHalf,
    yMax: 22.89, yTicks: ORG_N_TICKS,
    alarm: ORG_N_ALARM, alarmSpan: "right",
    left: 1000, top: 0, width: 1110, height: 870,
    yAxisWidth: 205, padRight: 56, unitPad: 50, titleX: 137, titleY: 82,
  },
  {
    name: "YEL0501G", onMinute: yel0501G, onHalf: yel0501GHalf,
    yMax: 0.4218, yTicks: YEL_G_TICKS,
    left: 0, top: 855, width: 1050, height: 850,
    yAxisWidth: 191, padRight: 10, unitPad: 53, titleX: 160, titleY: 84,
  },
  {
    name: "YEL0501N", onMinute: yel0501N, onHalf: yel0501NHalf,
    yMax: 1.553, yTicks: YEL_N_TICKS,
    left: 1000, top: 855, width: 1110, height: 850,
    yAxisWidth: 205, padRight: 56, unitPad: 68, titleX: 139, titleY: 84,
  },
];

const PLOT_TOP = 105;
const PLOT_BOTTOM = 765;

function hhmm(v: number): string {
  const h = Math.floor(v / 60);
  const m = Math.round(v - h * 60);
  return `${h}:${String(m).padStart(2, "0")}`;
}

// Merge the mm:00 and mm:30 readings into one time-ordered series.
function toPoints(onMinute: number[], onHalf: number[]) {
  const pts: { x: number; y: number }[] = [];
  onMinute.forEach((v, i) => {
    pts.push({ x: START_MINUTE + i, y: v });
    if (i < onHalf.length) pts.push({ x: START_MINUTE + i + 0.5, y: onHalf[i] });
  });
  return pts;
}

function decorPlugin(p: Panel) {
  return {
    id: "panelDecor",
    afterDraw(chart: any) {
      const { ctx, chartArea: a, scales } = chart;
      const xs = scales.x;
      const ys = scales.y;
      ctx.save();

      // inward tick marks
      ctx.strokeStyle = "#5a5a5a";
      ctx.lineWidth = 1.6;
      ctx.beginPath();
      for (const v of p.yTicks) {
        const py = ys.getPixelForValue(v);
        ctx.moveTo(a.left, py);
        ctx.lineTo(a.left + 9, py);
      }
      for (const v of HOUR_TICKS) {
        const px = xs.getPixelForValue(v);
        ctx.moveTo(px, a.bottom);
        ctx.lineTo(px, a.bottom - 10);
      }
      ctx.stroke();

      // plot frame
      ctx.strokeStyle = "#1a1a1a";
      ctx.lineWidth = 2;
      ctx.strokeRect(a.left, a.top, a.right - a.left, a.bottom - a.top);
      ctx.lineWidth = 3;
      ctx.beginPath();
      ctx.moveTo(a.left - 1, a.bottom);
      ctx.lineTo(a.right + 1, a.bottom);
      ctx.stroke();

      // alarm level
      if (p.alarm !== undefined) {
        const py = ys.getPixelForValue(p.alarm);
        const x0 = p.alarmSpan === "left" ? 0 : a.left - 2;
        const x1 = p.alarmSpan === "left" ? a.right + 4 : chart.width;
        ctx.strokeStyle = ALARM_COLOR;
        ctx.lineWidth = 4;
        ctx.beginPath();
        ctx.moveTo(x0, py);
        ctx.lineTo(x1, py);
        ctx.stroke();
      }

      // station name
      ctx.fillStyle = TITLE_COLOR;
      ctx.font = `bold 29.5px ${FONT}`;
      ctx.textAlign = "left";
      ctx.textBaseline = "middle";
      ctx.fillText(p.name, p.titleX, p.titleY);
      ctx.restore();
    },
  };
}

function PanelChart({ p }: { p: Panel }) {
  const ref = useRef<HTMLCanvasElement | null>(null);

  useEffect(() => {
    if (!ref.current) return;
    const chart = new Chart(ref.current, {
      type: "line",
      data: {
        datasets: [
          {
            data: toPoints(p.onMinute, p.onHalf),
            borderColor: LINE_COLOR,
            borderWidth: 1.8,
            pointRadius: 0,
            tension: 0,
            fill: false,
          },
        ],
      },
      options: {
        animation: false,
        responsive: false,
        devicePixelRatio: 1,
        events: [],
        parsing: false,
        normalized: true,
        layout: {
          padding: {
            left: 0,
            top: PLOT_TOP,
            right: p.padRight,
            bottom: 0,
          },
        },
        plugins: {
          legend: { display: false },
          tooltip: { enabled: false },
          title: { display: false },
        },
        scales: {
          x: {
            type: "linear",
            min: X_MIN,
            max: X_MAX,
            grid: { display: false, drawTicks: false },
            border: { display: false },
            afterBuildTicks: (s: any) => {
              s.ticks = HOUR_TICKS.map((v) => ({ value: v }));
            },
            afterFit: (s: any) => {
              s.height = p.height - PLOT_BOTTOM;
            },
            ticks: {
              autoSkip: false,
              maxRotation: 0,
              minRotation: 0,
              padding: 7,
              color: TICK_COLOR,
              font: { family: FONT, size: 29, lineHeight: 1.4 },
              callback: (v: any, i: number) =>
                i === 0 ? [hhmm(Number(v)), DATE_LABEL] : hhmm(Number(v)),
            },
          },
          y: {
            type: "linear",
            min: 0,
            max: p.yMax,
            grid: { color: "#ececec", lineWidth: 2, drawTicks: false },
            border: { display: false },
            afterBuildTicks: (s: any) => {
              s.ticks = p.yTicks.map((v) => ({ value: v }));
            },
            afterFit: (s: any) => {
              s.width = p.yAxisWidth;
            },
            ticks: {
              padding: 8,
              color: TICK_COLOR,
              font: { family: FONT, size: 29 },
              callback: (v: any) => Number(v).toFixed(3),
            },
            title: {
              display: true,
              text: UNIT_LABEL,
              color: TITLE_COLOR,
              font: { family: FONT, size: 26, weight: "bold" },
              padding: { top: p.unitPad, bottom: 0 },
            },
          },
        },
      } as any,
      plugins: [decorPlugin(p)],
    });
    return () => chart.destroy();
  }, [p]);

  return (
    <canvas
      ref={ref}
      width={p.width}
      height={p.height}
      style={{
        position: "absolute",
        left: p.left,
        top: p.top,
        width: p.width,
        height: p.height,
      }}
    />
  );
}

const headingStyle: React.CSSProperties = {
  position: "absolute",
  top: 12,
  fontFamily: FONT,
  fontSize: 79,
  lineHeight: "78px",
  color: "#000",
  whiteSpace: "nowrap",
};

export default function App() {
  return (
    <div
      style={{
        position: "fixed",
        left: 0,
        top: 0,
        width: 2050,
        height: 1705,
        overflow: "hidden",
        background: "#ffffff",
      }}
    >
      {PANELS.map((p) => (
        <PanelChart key={p.name} p={p} />
      ))}
      <div style={{ ...headingStyle, left: 712 }}>Gamma</div>
      <div style={{ ...headingStyle, left: 1696 }}>Neutron</div>
    </div>
  );
}
